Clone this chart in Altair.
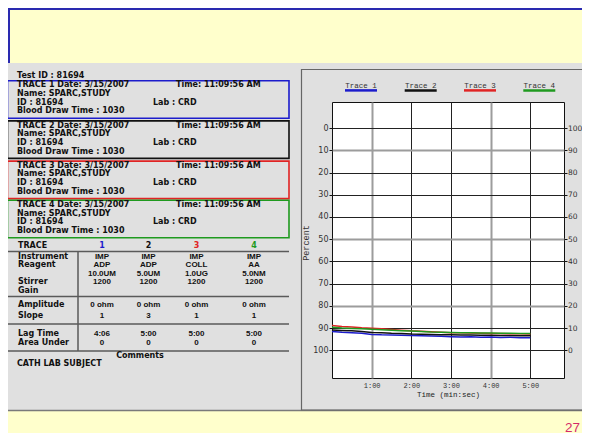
import altair as alt
import pandas as pd

# ---------------- data ----------------
trace_names = ["Trace 1", "Trace 2", "Trace 3", "Trace 4"]
trace_colors = ["#1c1ccc", "#111111", "#e02424", "#1f9a1f"]
times = [0.0, 0.25, 0.5, 0.75, 1.0, 1.25, 1.5, 1.75, 2.0, 2.25, 2.5,
         2.75, 3.0, 3.25, 3.5, 3.75, 4.0, 4.25, 4.5, 4.75, 5.0]
trace1 = [91.5, 91.8, 92.0, 92.3, 92.8, 93.0, 93.1, 93.2, 93.3, 93.4, 93.5,
          93.6, 93.8, 94.0, 93.9, 94.1, 94.0, 94.2, 94.1, 94.3, 94.3]
trace2 = [90.8, 91.0, 91.2, 91.5, 91.9, 92.1, 92.3, 92.4, 92.6, 92.7, 92.8,
          92.9, 93.0, 93.1, 93.1, 93.2, 93.2, 93.3, 93.3, 93.4, 93.4]
trace3 = [88.8, 89.2, 89.5, 89.8, 90.0, 90.3, 90.6, 90.9, 91.2, 91.4, 91.6,
          91.8, 92.0, 92.1, 92.2, 92.3, 92.4, 92.4, 92.5, 92.5, 92.6]
trace4 = [89.6, 89.9, 90.1, 90.3, 90.5, 90.7, 90.9, 91.1, 91.3, 91.5, 91.7,
          91.8, 91.9, 92.0, 92.1, 92.2, 92.2, 92.3, 92.3, 92.4, 92.4]

test_id = "81694"
trace_date = "3/15/2007"
trace_time = "11:09:56 AM"
patient_name = "SPARC,STUDY"
lab = "CRD"
blood_draw = "1030"

row_labels = ["Instrument", "Reagent", "Stirrer", "Gain",
              "Amplitude", "Slope", "Lag Time", "Area Under"]
instrument = ["IMP", "IMP", "IMP", "IMP"]
reagent = ["ADP", "ADP", "COLL", "AA"]
concentration = ["10.0UM", "5.0UM", "1.0UG", "5.0NM"]
stirrer = ["1200", "1200", "1200", "1200"]
amplitude = ["0 ohm", "0 ohm", "0 ohm", "0 ohm"]
slope = ["1", "3", "1", "1"]
lag_time = ["4:06", "5:00", "5:00", "5:00"]
area_under = ["0", "0", "0", "0"]
comment = "CATH LAB SUBJECT"
y_ticks = [0, 10, 20, 30, 40, 50, 60, 70, 80, 90, 100]
x_ticks = [1, 2, 3, 4, 5]
slide_number = "27"

rows = []
for name, vals in zip(trace_names, [trace1, trace2, trace3, trace4]):
    for t, v in zip(times, vals):
        rows.append({"time": t, "value": v, "trace": name})
df = pd.DataFrame(rows)

# ---------------- layout helpers (page coords -> view coords) ----------------
OX, OY = 332, 102
W, H = 232, 276
TOTAL_W, TOTAL_H = 574, 425
one = alt.Data(values=[{"k": 1}])
SANS = "DejaVu Sans"
ARIAL = "Liberation Sans"
MONO = "Liberation Mono"


def rect(x1, y1, x2, y2, **kw):
    return alt.Chart(one).mark_rect(**kw).encode(
        x=alt.value(x1 - OX), x2=alt.value(x2 - OX),
        y=alt.value(y1 - OY), y2=alt.value(y2 - OY))


def hrule(x1, x2, y, **kw):
    return alt.Chart(one).mark_rule(**kw).encode(
        x=alt.value(x1 - OX), x2=alt.value(x2 - OX), y=alt.value(y - OY))


def vrule(x, y1, y2, **kw):
    return alt.Chart(one).mark_rule(**kw).encode(
        x=alt.value(x - OX), y=alt.value(y1 - OY), y2=alt.value(y2 - OY))


def text(px, py, t, **kw):
    return alt.Chart(one).mark_text(**kw).encode(
        x=alt.value(px - OX), y=alt.value(py - OY), text=alt.value(t))


layers = []
# slide background pieces
layers.append(rect(0, 0, 600, 63, fill="#FFFFCC"))
layers.append(hrule(8, 600, 9, color="#2a2ab0", strokeWidth=2))
layers.append(vrule(9, 8, 63, color="#2a2ab0", strokeWidth=2))
layers.append(rect(0, 411, 600, 450, fill="#FFFFCC"))
layers.append(hrule(0, 600, 410.5, color="#7a7a7a", strokeWidth=1.5))
layers.append(rect(301.5, 69.5, 640, 410, fill="transparent", stroke="#666666", strokeWidth=1.2))
layers.append(text(580, 427.5, slide_number, align="right", font=ARIAL,
                   fontSize=13.5, color="#D42A6A"))

# left info panel
lt = dict(align="left", font=SANS, fontWeight="bold", fontSize=8, color="#111111")
layers.append(text(17, 75.7, f"Test ID : {test_id}", **lt))
box_tops = [80.7, 120.9, 161.1, 200.3]
for i, top in enumerate(box_tops):
    layers.append(rect(7.5, top, 289, top + 37.5, fill="transparent",
                       stroke=trace_colors[i], strokeWidth=1.6))
    layers.append(text(17, top + 4.6, f"TRACE {i + 1} Date: {trace_date}", **lt))
    layers.append(text(176, top + 4.6, f"Time: {trace_time}", **lt))
    layers.append(text(17, top + 13.3, f"Name: {patient_name}", **lt))
    layers.append(text(17, top + 22.0, f"ID  : {test_id}", **lt))
    layers.append(text(153, top + 22.0, f"Lab : {lab}", **lt))
    layers.append(text(17, top + 30.7, f"Blood Draw Time : {blood_draw}", **lt))

# table
col_x = [102, 148.5, 196.5, 254]
layers.append(text(18, 245.7, "TRACE", **lt))
for i, cx in enumerate(col_x):
    layers.append(text(cx, 245.7, str(i + 1), align="center", font=SANS,
                       fontWeight="bold", fontSize=8, color=trace_colors[i]))
for y in [251.5, 296.5, 324, 351]:
    layers.append(hrule(8, 289, y, color="#5a5a5a", strokeWidth=1.5))
layers.append(vrule(78, 251.5, 351, color="#5a5a5a", strokeWidth=1.5))
label_y = [256.7, 265.3, 282.3, 291.0, 304.7, 315.7, 333.7, 342.7]
for lab_txt, y in zip(row_labels, label_y):
    layers.append(text(18, y, lab_txt, **lt))
value_rows = [(instrument, 256.7), (reagent, 265.3), (concentration, 273.5),
              (stirrer, 282.0), (amplitude, 304.7), (slope, 315.7),
              (lag_time, 333.7), (area_under, 342.7)]
vt = dict(align="center", font=ARIAL, fontWeight="bold", fontSize=8, color="#111111")
for vals, y in value_rows:
    for cx, v in zip(col_x, vals):
        layers.append(text(cx, y, v, **vt))
layers.append(text(140, 355.5, "Comments", align="center", font=SANS,
                   fontWeight="bold", fontSize=8, color="#111111"))
layers.append(text(17, 364, comment, **lt))

# chart legend (custom, underlined)
leg_x = [361, 420.7, 480, 539.3]
for name, col, cx in zip(trace_names, trace_colors, leg_x):
    layers.append(text(cx, 85.7, name, align="center", font=MONO, fontSize=7.5,
                       color="#333333"))
    layers.append(hrule(cx - 16, cx + 16, 90.4, color=col, strokeWidth=2.5))
layers.append(text(306, 243, "Percent", align="center", font=MONO, fontSize=8.5,
                   color="#333333", angle=270))

# main chart
xscale = alt.Scale(domain=[0, 5.85], nice=False, zero=False)
yscale = alt.Scale(domain=[-11.7, 112.4], reverse=True, nice=False, zero=False)
xgrid_c = {"condition": {"test": "datum.value === 1 || datum.value === 4", "value": "#9c9c9c"},
           "value": "#222222"}
xgrid_w = {"condition": {"test": "datum.value === 1 || datum.value === 4", "value": 2},
           "value": 1}
ygrid_c = {"condition": {"test": "datum.value === 10 || datum.value === 50 || datum.value === 80",
                         "value": "#9c9c9c"}, "value": "#222222"}
ygrid_w = {"condition": {"test": "datum.value === 10 || datum.value === 50 || datum.value === 80",
                         "value": 2}, "value": 1}

lines = alt.Chart(df).mark_line(strokeWidth=1.5, clip=True).encode(
    x=alt.X("time:Q", scale=xscale, axis=alt.Axis(
        values=x_ticks, labelExpr="datum.value + ':00'", title="Time (min:sec)",
        titleFont=MONO, titleFontSize=7.5, titleFontWeight="normal", titleColor="#222222",
        labelFont=MONO, labelFontSize=7, labelColor="#333333", ticks=False,
        labelPadding=3, titlePadding=2, domain=False, grid=True,
        gridColor=xgrid_c, gridWidth=xgrid_w, gridOpacity=1)),
    y=alt.Y("value:Q", scale=yscale, axis=alt.Axis(
        orient="left", values=y_ticks, title=None, labelFont=SANS,
        labelFontSize=8, labelColor="#333333", tickColor="#111111", tickSize=3,
        labelPadding=1, domain=False, grid=True, gridColor=ygrid_c, gridWidth=ygrid_w,
        gridOpacity=1)),
    color=alt.Color("trace:N", scale=alt.Scale(domain=trace_names, range=trace_colors),
                    legend=None),
)

right_axis = alt.Chart(df).mark_point(opacity=0).encode(
    x=alt.value(0),
    y=alt.Y("value:Q", scale=yscale, axis=alt.Axis(
        orient="right", values=y_ticks, labelExpr="100 - datum.value", title=None,
        labelFont=SANS, labelFontSize=7.5, labelColor="#333333",
        tickColor="#111111", tickSize=3, labelPadding=0.5, domain=False, grid=False)),
)

layers.append(lines)
layers.append(right_axis)

chart = alt.layer(*layers).properties(
    width=W, height=H,
    padding={"left": OX - 8, "top": OY - 8,
             "right": TOTAL_W - (OX - 8) - W, "bottom": TOTAL_H - (OY - 8) - H},
    autosize=alt.AutoSizeParams(type="none"),
).resolve_axis(y="independent").configure(background="#E0E0E0").configure_view(
    fill="white", stroke="#111111", strokeWidth=1)

chart.save("out.html", embed_options={"renderer": "svg", "actions": False})
